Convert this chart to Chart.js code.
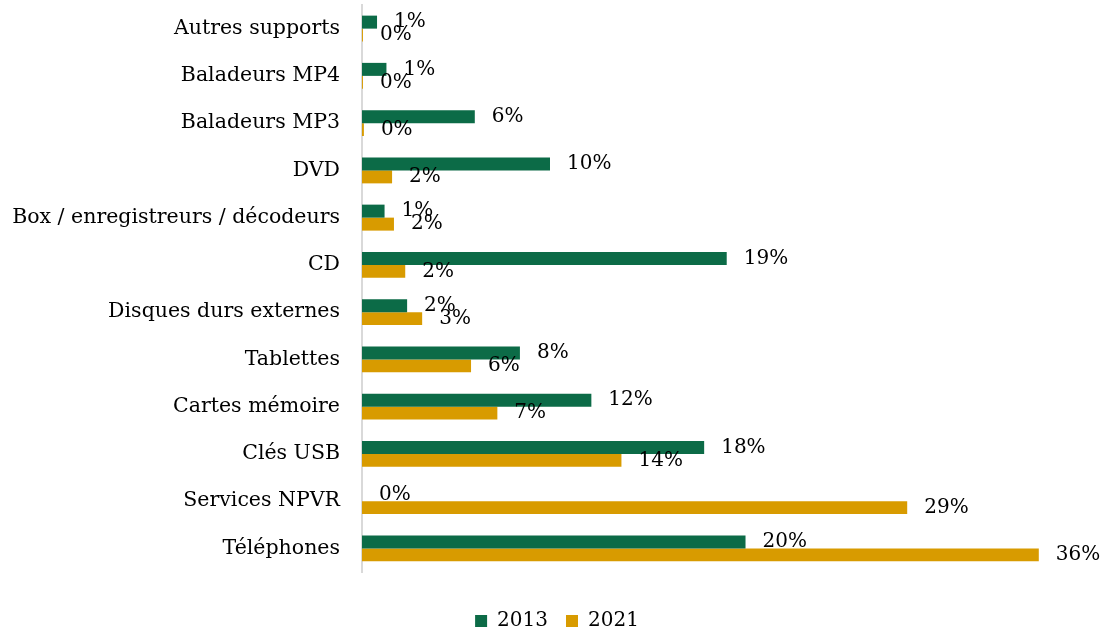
<!DOCTYPE html>
<html lang="fr">
<head>
  <meta charset="UTF-8" />
  <title>Supports de copie 2013 / 2021</title>
  <script src="https://cdn.jsdelivr.net/npm/chart.js"></script>
  <style>
    html, body { margin: 0; padding: 0; background: #fff; }
    #wrap { width: 1114px; height: 632px; }
  </style>
</head>
<body>
  <div id="wrap"><canvas id="chart"></canvas></div>

  <script>
    const categories = [
      'Autres supports', 'Baladeurs MP4', 'Baladeurs MP3', 'DVD',
      'Box / enregistreurs / décodeurs', 'CD', 'Disques durs externes',
      'Tablettes', 'Cartes mémoire', 'Clés USB', 'Services NPVR', 'Téléphones'
    ];
    const values2013 = [0.8, 1.3, 6.0, 10.0, 1.2, 19.4, 2.4, 8.4, 12.2, 18.2, 0, 20.4];
    const values2021 = [0.05, 0.05, 0.1, 1.6, 1.7, 2.3, 3.2, 5.8, 7.2, 13.8, 29.0, 36.0];

    const FONT = '"DejaVu Serif", "Liberation Serif", serif';

    // étiquettes de valeurs à droite des barres
    const valueLabels = {
      id: 'valueLabels',
      afterDatasetsDraw(chart) {
        const ctx = chart.ctx;
        ctx.save();
        ctx.font = '20px ' + FONT;
        ctx.fillStyle = '#000';
        ctx.textAlign = 'left';
        ctx.textBaseline = 'middle';
        chart.data.datasets.forEach((ds, i) => {
          chart.getDatasetMeta(i).data.forEach((bar, j) => {
            ctx.fillText(Math.round(ds.data[j]) + '%', bar.x + 17, bar.y);
          });
        });
        ctx.restore();
      }
    };

    new Chart(document.getElementById('chart'), {
      type: 'bar',
      data: {
        labels: categories,
        datasets: [
          { label: '2013', data: values2013, backgroundColor: '#0c6b47' },
          { label: '2021', data: values2021, backgroundColor: '#d89b00' }
        ]
      },
      options: {
        indexAxis: 'y',
        responsive: true,
        maintainAspectRatio: false,
        animation: false,
        categoryPercentage: 0.55,
        barPercentage: 1.0,
        layout: { padding: { top: 5, right: 0, left: 0, bottom: -9 } },
        plugins: {
          legend: {
            position: 'bottom',
            labels: {
              font: { family: FONT, size: 20 },
              color: '#000',
              boxWidth: 12,
              boxHeight: 12,
              padding: 18
            }
          },
          tooltip: { enabled: false }
        },
        scales: {
          x: {
            min: 0,
            max: 40,
            grid: { display: false },
            border: { display: false },
            ticks: { display: false },
            afterFit(scale) {
              scale.height = 21;
              scale.paddingLeft = 0;
              scale.paddingRight = 0;
            }
          },
          y: {
            grid: { display: false, drawTicks: false },
            border: { color: '#d9d9d9', width: 2 },
            ticks: {
              font: { family: FONT, size: 20.5 },
              color: '#000',
              padding: 22
            },
            afterFit(scale) {
              scale.width = 362;
              scale.paddingTop = 0;
              scale.paddingBottom = 0;
            }
          }
        }
      },
      plugins: [valueLabels]
    });
  </script>
</body>
</html>
